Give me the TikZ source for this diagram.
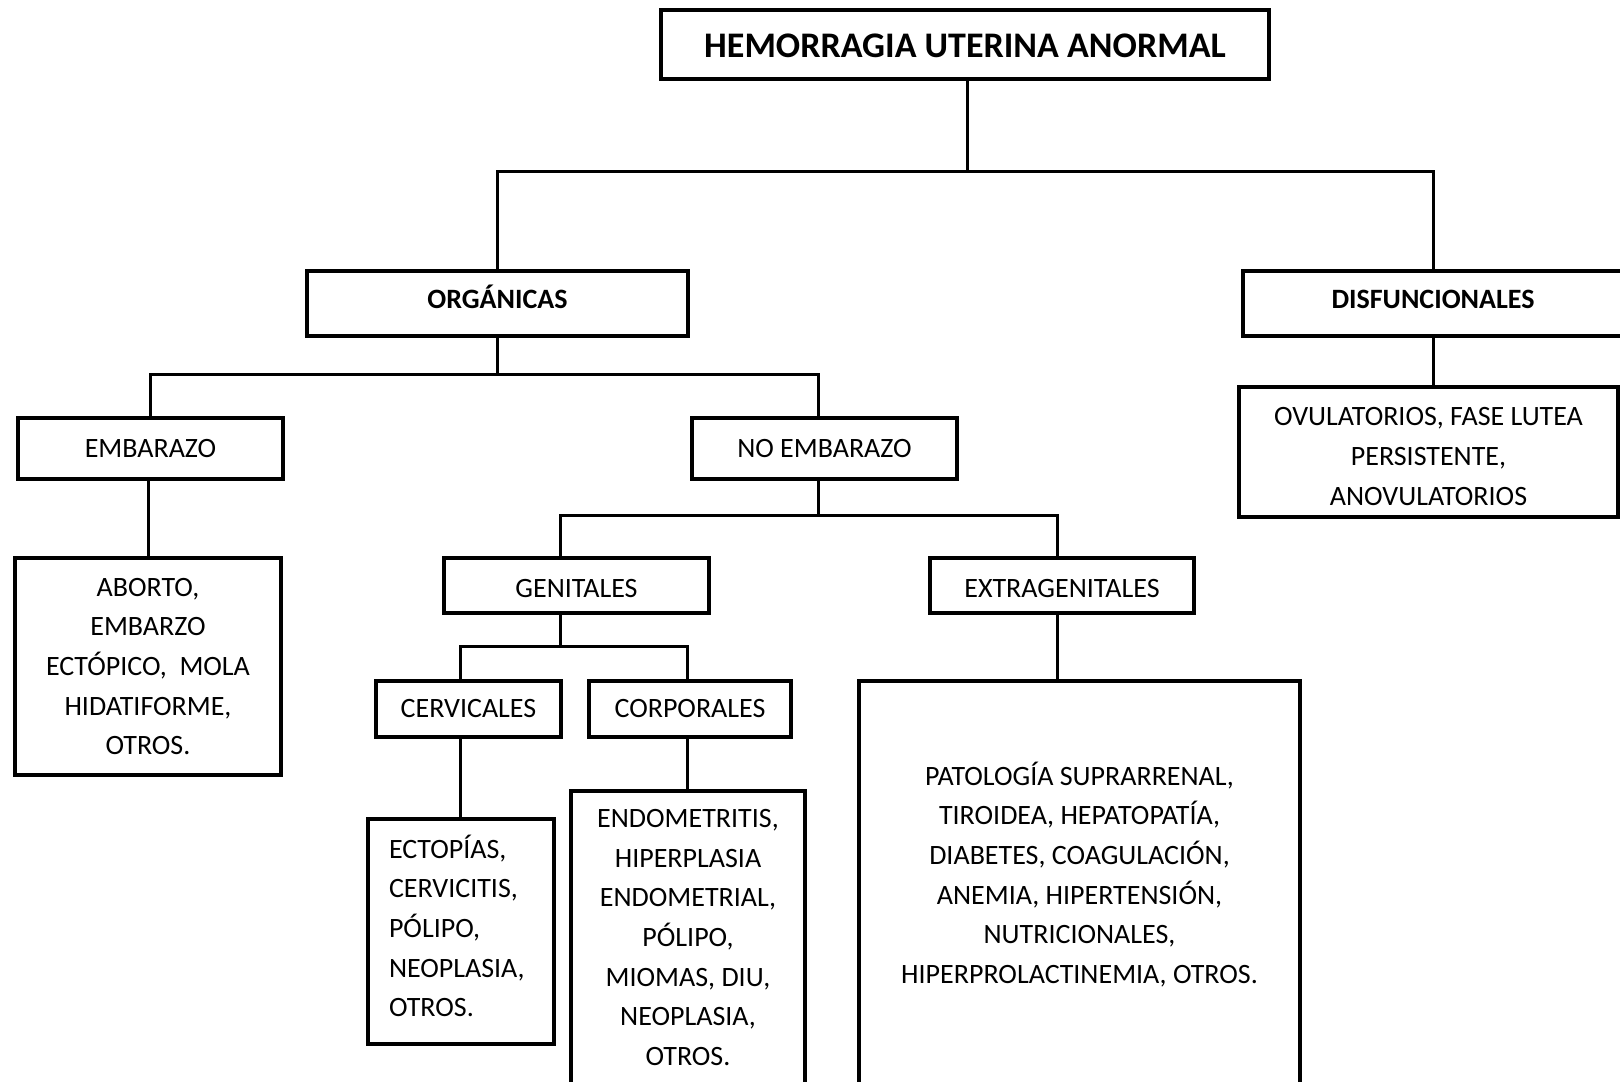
\documentclass[tikz,border=0pt]{standalone}
\usepackage{fontspec}
\setmainfont{Carlito}
\begin{document}
\begin{tikzpicture}[
  x={(0.5pt,0)}, y={(0,-0.5pt)},
  line width=1.5pt,
  box/.style={draw=black, line width=1.6pt, inner sep=0pt, align=center,
    font=\fontsize{14}{19.85}\selectfont},
  boldbox/.style={box, font=\fontsize{14}{19.85}\selectfont\bfseries},
  link/.style={draw=black, line width=1.5pt}
]
\useasboundingbox (0,0) rectangle (1620,1081);
\clip (0,0) rectangle (1620,1081);

% top level
\node[boldbox, minimum width=304pt, minimum height=34.5pt, text height=13.4pt, text depth=0pt,
  font=\fontsize{18}{22}\selectfont\bfseries] (top) at (965,44.5) {HEMORRAGIA UTERINA ANORMAL};

% second level
\node[boldbox, minimum width=190.5pt, minimum height=32.5pt, text height=9pt, text depth=3.8pt]
  (org) at (497.5,303.5) {ORGÁNICAS};
\node[boldbox, minimum width=190pt, minimum height=32.5pt, text height=9pt, text depth=3.8pt]
  (dis) at (1433,303.5) {DISFUNCIONALES};

% organic causes
\node[box, minimum width=132.5pt, minimum height=30.5pt] (emb) at (150.5,448.5) {EMBARAZO};
\node[box, minimum width=132.5pt, minimum height=30.5pt] (noemb) at (824.5,448.5) {NO EMBARAZO};

\node[box, minimum width=133pt, minimum height=108.5pt] (abo) at (148,666.5)
  {ABORTO,\\ EMBARZO\\ ECTÓPICO,~ MOLA\\ HIDATIFORME,\\ OTROS.};

\node[box, minimum width=132.5pt, minimum height=27.5pt, text height=12pt, text depth=0.1pt]
  (gen) at (576.5,585.5) {GENITALES};
\node[box, minimum width=132pt, minimum height=27.5pt, text height=12pt, text depth=0.1pt]
  (ext) at (1062,585.5) {EXTRAGENITALES};

\node[box, minimum width=92.5pt, minimum height=28pt] (cerv) at (468.5,709) {CERVICALES};
\node[box, minimum width=101pt, minimum height=28pt] (corp) at (690,709) {CORPORALES};

\node[box, minimum width=93pt, minimum height=112.5pt, text width=72pt, align=left, text height=6.1pt]
  (ecto) at (461,931.5)
  {ECTOPÍAS,\\ CERVICITIS,\\ PÓLIPO,\\ NEOPLASIA,\\ OTROS.};
\node[box, minimum width=117pt, minimum height=146.5pt] (endo) at (688,937.5)
  {ENDOMETRITIS,\\ HIPERPLASIA\\ ENDOMETRIAL,\\ PÓLIPO,\\ MIOMAS, DIU,\\ NEOPLASIA,\\ OTROS.};

\node[box, minimum width=220.5pt, minimum height=209.5pt] (pat) at (1079.5,890.5) {};
\node[font=\fontsize{14}{19.85}\selectfont, align=center, inner sep=0pt] (pattext) at (1079.5,874.5)
  {PATOLOGÍA SUPRARRENAL,\\ TIROIDEA, HEPATOPATÍA,\\ DIABETES, COAGULACIÓN,\\ ANEMIA, HIPERTENSIÓN,\\ NUTRICIONALES,\\ HIPERPROLACTINEMIA, OTROS.};

% dysfunctional causes
\node[box, minimum width=189.5pt, minimum height=65pt, text height=53.2pt] (ovu) at (1428.5,452)
  {OVULATORIOS, FASE LUTEA\\ PERSISTENTE,\\ ANOVULATORIOS};

% junction points of the tree
\coordinate (j1) at (967,171);
\coordinate (j2) at (818,374);
\coordinate (j3l) at (560,515);
\coordinate (j3r) at (1057,515);
\coordinate (j4l) at (460,646);
\coordinate (j4r) at (687,646);

% connectors
\draw[link] (top.south -| j1) -- (j1);
\draw[link] (org.north) |- (j1) -| (dis.north);
\draw[link] (org.south) -- (org.south |- j2);
\draw[link] (emb.north) |- (j2) -- (j2 |- noemb.north);
\draw[link] (abo.north |- emb.south) -- (abo.north);
\draw[link] (j2 |- noemb.south) -- (j2 |- j3l);
\draw[link] (j3l |- gen.north) -- (j3l) -- (j3r) -- (j3r |- ext.north);
\draw[link] (j3l |- gen.south) -- (j3l |- j4l);
\draw[link] (j4l |- cerv.north) -- (j4l) -- (j4r) -- (j4r |- corp.north);
\draw[link] (j4l |- cerv.south) -- (j4l |- ecto.north);
\draw[link] (j4r |- corp.south) -- (j4r |- endo.north);
\draw[link] (j3r |- ext.south) -- (j3r |- pat.north);
\draw[link] (dis.south) -- (dis.south |- ovu.north);
\end{tikzpicture}
\end{document}
